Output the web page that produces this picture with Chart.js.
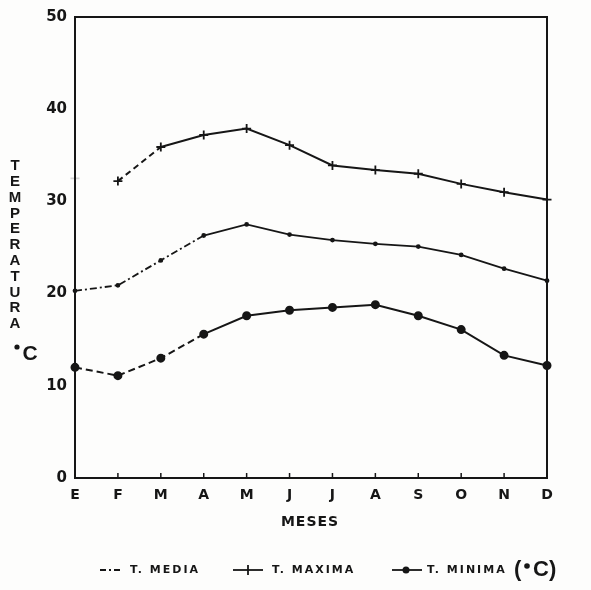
<!DOCTYPE html>
<html>
<head>
<meta charset="utf-8">
<script src="https://cdn.jsdelivr.net/npm/chart.js@4.4.1/dist/chart.umd.min.js"></script>
<style>
  html, body { margin: 0; padding: 0; background: #fdfdfc; }
  #wrap { width: 591px; height: 590px; position: relative; }
</style>
</head>
<body>
<div id="wrap"><canvas id="tempChart" width="591" height="590"></canvas></div>
<script>
// monthly temperatures (°C)
const months = ["E", "F", "M", "A", "M", "J", "J", "A", "S", "O", "N", "D"];
const tMedia = [20.3, 20.9, 23.6, 26.3, 27.5, 26.4, 25.8, 25.4, 25.1, 24.2, 22.7, 21.4];
const tMaxima = [32.5, 32.2, 35.9, 37.2, 37.9, 36.1, 33.9, 33.4, 33.0, 31.9, 31.0, 30.2];
const tMinima = [12.0, 11.1, 13.0, 15.6, 17.6, 18.2, 18.5, 18.8, 17.6, 16.1, 13.3, 12.2];
const yTickStep = 10;
const yMax = 50;

const yTitle = "TEMPERATURA".split("");
const xTitle = "MESES";

const INK = "#161616";
const FADED = "#d4d4d4";
const FONT = "'DejaVu Sans', sans-serif";
const NARROW = "'Liberation Sans', Arial, sans-serif";

// frame, inner ticks, stacked y title, x title and the legend row
const decorations = {
  id: "decorations",
  afterDraw(chart) {
    const { ctx, chartArea: a, scales } = chart;
    ctx.save();
    ctx.strokeStyle = INK;
    ctx.fillStyle = INK;

    // box round the plot
    ctx.lineWidth = 2;
    ctx.strokeRect(a.left, a.top, a.right - a.left, a.bottom - a.top);

    // small ticks pointing inward on the month axis
    ctx.lineWidth = 1.5;
    months.forEach((m, i) => {
      const px = scales.x.getPixelForValue(i);
      ctx.beginPath();
      ctx.moveTo(px, a.bottom);
      ctx.lineTo(px, a.bottom - 5);
      ctx.stroke();
    });

    // vertical title, one letter under the other
    ctx.font = "bold 15px " + NARROW;
    ctx.textAlign = "center";
    ctx.textBaseline = "middle";
    yTitle.forEach((ch, i) => ctx.fillText(ch, 15, 166 + i * 15.8));
    ctx.beginPath(); ctx.arc(17, 347, 2.6, 0, Math.PI * 2); ctx.fill();
    ctx.font = "bold 21px " + NARROW;
    ctx.fillText("C", 30, 354);

    // x title
    ctx.font = "bold 14px " + FONT;
    ctx.letterSpacing = "1px";
    ctx.fillText(xTitle, 310, 522);

    // legend row
    const ly = 570;
    ctx.lineWidth = 1.8;
    ctx.textAlign = "left";
    ctx.font = "bold 11px " + FONT;
    ctx.letterSpacing = "2px";

    ctx.setLineDash([6, 3, 2, 3]);
    ctx.beginPath(); ctx.moveTo(100, ly); ctx.lineTo(121, ly); ctx.stroke();
    ctx.setLineDash([]);
    ctx.fillText("T. MEDIA", 130, ly);

    ctx.beginPath(); ctx.moveTo(233, ly); ctx.lineTo(263, ly); ctx.stroke();
    ctx.beginPath(); ctx.moveTo(248, ly - 5); ctx.lineTo(248, ly + 5); ctx.stroke();
    ctx.fillText("T. MAXIMA", 272, ly);

    ctx.beginPath(); ctx.moveTo(392, ly); ctx.lineTo(422, ly); ctx.stroke();
    ctx.beginPath(); ctx.arc(406, ly, 3.5, 0, Math.PI * 2); ctx.fill();
    ctx.fillText("T. MINIMA", 427, ly);

    ctx.letterSpacing = "0px";
    ctx.font = "bold 22px " + NARROW;
    ctx.fillText("(", 514, ly);
    ctx.beginPath(); ctx.arc(527, ly - 4, 2.8, 0, Math.PI * 2); ctx.fill();
    ctx.fillText("C)", 533, ly);
    ctx.restore();
  }
};

new Chart(document.getElementById("tempChart"), {
  type: "line",
  data: {
    labels: months,
    datasets: [
      {
        label: "T. MEDIA",
        data: tMedia,
        borderColor: INK,
        backgroundColor: INK,
        borderWidth: 1.8,
        pointRadius: 1.5,
        clip: false,
        segment: { borderDash: c => c.p0DataIndex < 3 ? [7, 3, 2, 3] : undefined }
      },
      {
        label: "T. MAXIMA",
        data: tMaxima,
        borderColor: INK,
        backgroundColor: INK,
        borderWidth: 2,
        pointStyle: "cross",
        pointRadius: 4.5,
        pointBorderWidth: 1.8,
        pointBorderColor: tMaxima.map((v, i) => i === 0 ? FADED : INK),
        clip: false,
        segment: {
          borderDash: c => c.p0DataIndex < 2 ? [6, 4] : undefined,
          borderColor: c => c.p0DataIndex === 0 ? "rgba(0,0,0,0)" : INK
        }
      },
      {
        label: "T. MINIMA",
        data: tMinima,
        borderColor: INK,
        backgroundColor: INK,
        borderWidth: 2,
        pointStyle: "circle",
        pointRadius: 3.5,
        clip: false,
        segment: { borderDash: c => c.p0DataIndex < 3 ? [7, 4] : undefined }
      }
    ]
  },
  options: {
    responsive: false,
    animation: false,
    layout: { padding: { top: 13, right: 44, bottom: 0, left: 0 } },
    plugins: { legend: { display: false }, tooltip: { enabled: false } },
    scales: {
      x: {
        grid: { display: false, drawTicks: false },
        border: { display: false },
        ticks: { color: INK, font: { family: FONT, size: 14, weight: "bold" }, padding: 9, maxRotation: 0, autoSkip: false },
        afterFit(scale) { scale.height = 112; }
      },
      y: {
        min: 0,
        max: yMax,
        grid: { display: false, drawTicks: false },
        border: { display: false },
        ticks: { stepSize: yTickStep, color: INK, font: { family: FONT, size: 15, weight: "bold" }, padding: 8 },
        afterFit(scale) { scale.width = 75; }
      }
    }
  },
  plugins: [decorations]
});
</script>
</body>
</html>
